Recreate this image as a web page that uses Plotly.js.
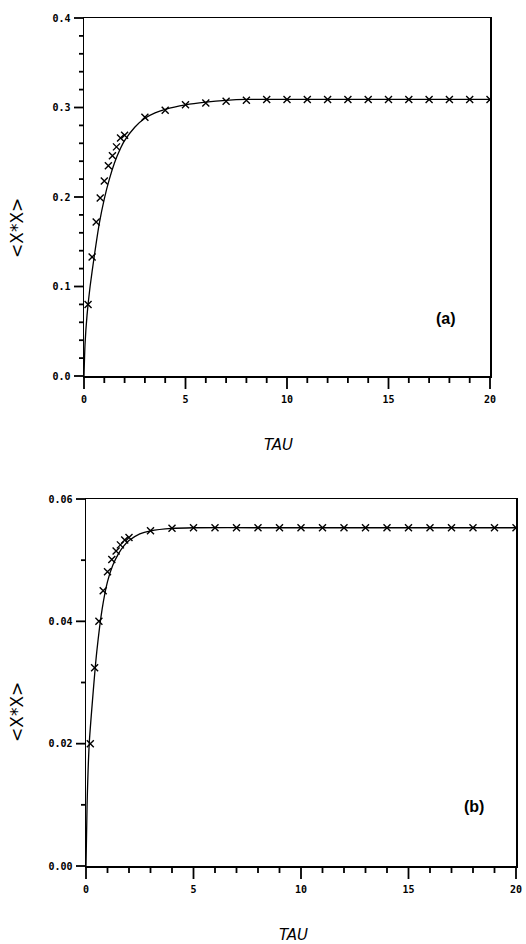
<!DOCTYPE html>
<html>
<head>
<meta charset="utf-8">
<script src="https://cdn.plot.ly/plotly-3.0.1.min.js"></script>
<style>html,body{margin:0;padding:0;background:#fff;}#chart{width:526px;height:944px;}</style>
</head>
<body>
<div id="chart"></div>
<script>
// Panel (a): measured points
const tauPointsA = [0.2,0.4,0.6,0.8,1.0,1.2,1.4,1.6,1.8,2.0,3,4,5,6,7,8,9,10,11,12,13,14,15,16,17,18,19,20];
const xxPointsA  = [0.080,0.133,0.172,0.199,0.218,0.235,0.246,0.256,0.266,0.269,0.289,0.297,0.303,0.305,0.307,0.308,0.309,0.309,0.309,0.309,0.309,0.309,0.309,0.309,0.309,0.309,0.309,0.309];
// Panel (a): solid curve
const tauCurveA = [0,0.05,0.15,0.3,0.5,0.75,1.0,1.25,1.5,1.75,2.0,2.5,3.0,3.5,4.0,5.0,6.0,7.0,8.0,10,14,20];
const xxCurveA  = [0,0.035,0.068,0.100,0.133,0.170,0.198,0.220,0.238,0.252,0.263,0.278,0.288,0.294,0.298,0.303,0.306,0.308,0.309,0.309,0.309,0.309];

// Panel (b): measured points
const tauPointsB = [0.2,0.4,0.6,0.8,1.0,1.2,1.4,1.6,1.8,2.0,3,4,5,6,7,8,9,10,11,12,13,14,15,16,17,18,19,20];
const xxPointsB  = [0.0200,0.0324,0.0400,0.0450,0.0481,0.0501,0.0515,0.0525,0.0533,0.0537,0.0548,0.0552,0.0553,0.0553,0.0553,0.0553,0.0553,0.0553,0.0553,0.0553,0.0553,0.0553,0.0553,0.0553,0.0553,0.0553,0.0553,0.0553];
// Panel (b): solid curve
const tauCurveB = [0,0.05,0.15,0.3,0.5,0.75,1.0,1.25,1.5,1.75,2.0,2.5,3.0,4.0,5.0,8,14,20];
const xxCurveB  = [0,0.010,0.020,0.027,0.035,0.042,0.0465,0.0492,0.0510,0.0523,0.0532,0.0543,0.0548,0.0552,0.0553,0.0553,0.0553,0.0553];

// Axis tick settings (labels come from these)
const yRangeA = [0,0.4], yStepA = 0.1, yMinorA = 0.02, yFormatA = '.1f';
const yRangeB = [0,0.06], yStepB = 0.02, yMinorB = 0.01, yFormatB = '.2f';
const xRange = [0,20], xStep = 5, xMinor = 1;

const ink = 'black';
const W=526, H=944;

// subplot placement
const domXA = [84/W, 490/W], domYA = [1-376/H, 1-18/H];
const domXB = [86/W, 516/W], domYB = [1-866/H, 1-499/H];

function curve(x,y,xa,ya){return {x:x,y:y,xaxis:xa,yaxis:ya,mode:'lines',showlegend:false,line:{color:ink,width:1.3,shape:'spline',smoothing:0.6}};}
function pts(x,y,xa,ya){return {x:x,y:y,xaxis:xa,yaxis:ya,mode:'markers',showlegend:false,marker:{symbol:'x-thin-open',size:7,color:ink,line:{color:ink,width:1.4}}};}

const data = [
  curve(tauCurveA,xxCurveA,'x','y'), pts(tauPointsA,xxPointsA,'x','y'),
  curve(tauCurveB,xxCurveB,'x2','y2'), pts(tauPointsB,xxPointsB,'x2','y2')
];

const XMAJ=13, XMIN=7, YMAJ=10, YMIN=5;
function xax(dom, anchor){return {domain:dom, anchor:anchor, range:xRange, tickmode:'linear', tick0:0, dtick:xStep, ticks:'outside', ticklen:XMAJ, tickwidth:1, tickcolor:'rgba(0,0,0,0)',
  showline:true, linecolor:ink, linewidth:1.5, mirror:true, showgrid:false, zeroline:false, fixedrange:true};}
function yax(dom, anchor, rng, step, fmt){return {domain:dom, anchor:anchor, range:rng, tickmode:'linear', tick0:0, dtick:step, tickformat:fmt, ticks:'outside', ticklen:YMAJ, tickwidth:1, tickcolor:'rgba(0,0,0,0)',
  showline:true, linecolor:ink, linewidth:1.5, mirror:true, showgrid:false, zeroline:false, fixedrange:true};}

// Tick marks drawn as paper-space line shapes, positioned from the axis ranges/steps
const shapes = [];
function addXTicks(rng, step, minor, domX, domY){
  const n = Math.round((rng[1]-rng[0])/minor), every = Math.round(step/minor);
  for(let i=0;i<=n;i++){
    const v = rng[0] + i*minor;
    const px = domX[0] + (v-rng[0])/(rng[1]-rng[0])*(domX[1]-domX[0]);
    const len = (i%every===0 ? XMAJ : XMIN)/H;
    shapes.push({type:'line', xref:'paper', yref:'paper', x0:px, x1:px, y0:domY[0], y1:domY[0]-len, line:{color:ink, width:1.8}, layer:'above'});
  }
}
function addYTicks(rng, step, minor, domX, domY){
  const n = Math.round((rng[1]-rng[0])/minor), every = Math.round(step/minor);
  for(let i=0;i<=n;i++){
    const v = rng[0] + i*minor;
    const py = domY[0] + (v-rng[0])/(rng[1]-rng[0])*(domY[1]-domY[0]);
    const len = (i%every===0 ? YMAJ : YMIN)/W;
    shapes.push({type:'line', xref:'paper', yref:'paper', x0:domX[0], x1:domX[0]-len, y0:py, y1:py, line:{color:ink, width:1.8}, layer:'above'});
  }
}
addXTicks(xRange, xStep, xMinor, domXA, domYA);
addYTicks(yRangeA, yStepA, yMinorA, domXA, domYA);
addXTicks(xRange, xStep, xMinor, domXB, domYB);
addYTicks(yRangeB, yStepB, yMinorB, domXB, domYB);

const titleFont = {family:'DejaVu Sans', size:17, color:ink, weight:'normal'};
const tauFont = {family:'DejaVu Sans', size:15, color:ink, weight:'normal'};
const panelFont = {family:'Liberation Sans', size:16, color:ink, weight:'bold'};
const layout = {
  width:W, height:H, margin:{l:0,r:0,t:0,b:0},
  font:{family:'DejaVu Sans Mono', size:10, color:ink, weight:'bold'},
  xaxis: xax(domXA, 'y'),
  yaxis: yax(domYA, 'x', yRangeA, yStepA, yFormatA),
  xaxis2: xax(domXB, 'y2'),
  yaxis2: yax(domYB, 'x2', yRangeB, yStepB, yFormatB),
  shapes: shapes,
  annotations: [
    {xref:'paper', yref:'paper', x:278/W, y:1-445/H, text:'<i>TAU</i>', showarrow:false, font:tauFont, xanchor:'center', yanchor:'middle'},
    {xref:'paper', yref:'paper', x:293/W, y:1-935/H, text:'<i>TAU</i>', showarrow:false, font:tauFont, xanchor:'center', yanchor:'middle'},
    {xref:'paper', yref:'paper', x:17/W, y:1-228/H, text:'<X*X>', textangle:-90, showarrow:false, font:titleFont, xanchor:'center', yanchor:'middle'},
    {xref:'paper', yref:'paper', x:17/W, y:1-712/H, text:'<X*X>', textangle:-90, showarrow:false, font:titleFont, xanchor:'center', yanchor:'middle'},
    {xref:'paper', yref:'paper', x:446/W, y:1-319/H, text:'(a)', showarrow:false, font:panelFont, xanchor:'center', yanchor:'middle'},
    {xref:'paper', yref:'paper', x:474/W, y:1-806/H, text:'(b)', showarrow:false, font:panelFont, xanchor:'center', yanchor:'middle'}
  ]
};
Plotly.newPlot('chart', data, layout, {staticPlot:true});
</script>
</body>
</html>
